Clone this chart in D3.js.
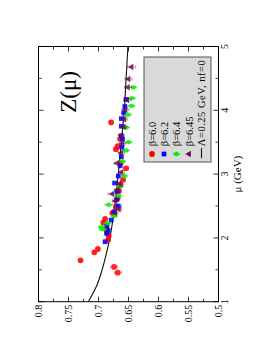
<!DOCTYPE html>
<html><head><meta charset="utf-8">
<script src="https://cdn.jsdelivr.net/npm/d3@7"></script>
<style>html,body{margin:0;padding:0;background:#fff;}svg{display:block;}</style>
</head><body>
<svg id="c" width="264" height="341"></svg>
<script>
// data: [mu (GeV), Z, error]
const beta60 = [[1.455,0.668,0.006],[1.545,0.674,0.006],[1.648,0.730,0.002],[1.774,0.707,0.002],[1.826,0.701,0.002],[1.97,0.684,0.002],[2.03,0.683,0.002],[2.08,0.686,0.002],[2.14,0.687,0.002],[2.24,0.692,0.002],[2.30,0.689,0.002],[2.39,0.677,0.003],[2.49,0.671,0.003],[2.62,0.668,0.003],[2.73,0.666,0.003],[2.83,0.663,0.003],[2.91,0.659,0.003],[3.09,0.654,0.004],[3.17,0.663,0.003],[3.39,0.671,0.003],[3.44,0.668,0.003],[3.55,0.664,0.003],[3.81,0.679,0.002]];
const beta62 = [[1.94,0.689,0.003],[2.07,0.686,0.003],[2.12,0.684,0.003],[2.19,0.686,0.003],[2.28,0.679,0.003],[2.41,0.674,0.004],[2.50,0.667,0.005],[2.60,0.670,0.004],[2.73,0.669,0.004],[2.86,0.673,0.004],[2.97,0.667,0.003],[3.13,0.664,0.003],[3.27,0.662,0.003],[3.42,0.661,0.003],[3.55,0.660,0.003],[3.60,0.662,0.003],[3.75,0.662,0.003],[3.87,0.662,0.003],[3.96,0.658,0.003],[4.06,0.656,0.003],[4.17,0.654,0.003]];
const beta64 = [[2.135,0.693,0.006],[2.17,0.695,0.004],[2.23,0.685,0.004],[2.34,0.674,0.004],[2.52,0.683,0.006],[2.66,0.667,0.004],[2.80,0.665,0.004],[2.97,0.657,0.004],[3.20,0.660,0.003],[3.37,0.654,0.003],[3.50,0.650,0.003],[3.73,0.654,0.003],[3.93,0.651,0.003],[4.07,0.645,0.003],[4.19,0.644,0.003],[4.36,0.642,0.003]];
const beta645 = [[2.39,0.672,0.005],[2.45,0.666,0.005],[2.58,0.672,0.005],[2.69,0.677,0.007],[2.76,0.668,0.005],[2.85,0.665,0.005],[3.03,0.662,0.005],[3.17,0.669,0.005],[3.33,0.662,0.005],[3.48,0.660,0.005],[3.61,0.662,0.005],[3.74,0.658,0.005],[3.86,0.657,0.005],[4.01,0.655,0.006],[4.16,0.652,0.006],[4.36,0.651,0.006],[4.49,0.650,0.006],[4.68,0.645,0.007]];
// curve Lambda=0.25 GeV, nf=0
const curveMu = [1.0,1.1,1.25,1.5,1.75,2.0,2.5,3.0,3.5,4.0,4.5,5.0];
const curveZ  = [0.717,0.711,0.703,0.694,0.687,0.681,0.673,0.667,0.662,0.657,0.654,0.651];
const muTicks = [1,2,3,4,5];
const zTicks = [0.5,0.55,0.6,0.65,0.7,0.75,0.8];
const legendLabels = ["\u03B2=6.0","\u03B2=6.2","\u03B2=6.4","\u03B2=6.45","\u039B=0.25 GeV, nf=0"];

const series = [
  {data:beta60, color:"#ff0000", shape:d3.symbolCircle, size:26},
  {data:beta62, color:"#0000ff", shape:d3.symbolSquare, size:22},
  {data:beta64, color:"#00ee00", shape:d3.symbolDiamond, size:20},
  {data:beta645, color:"#6a0d50", shape:d3.symbolTriangle, size:18}
];

const W = 255.2, H = 180;
const svg = d3.select("#c");
const g = svg.append("g").attr("transform","translate(38.5,301.7) rotate(-90)");
const x = d3.scaleLinear().domain([1,5]).range([0,W]);
const y = d3.scaleLinear().domain([0.5,0.8]).range([H,0]);
const font = "Liberation Serif, Times New Roman, serif";

// frame
g.append("rect").attr("x",0).attr("y",0).attr("width",W).attr("height",H)
 .attr("fill","none").attr("stroke","#000").attr("stroke-width",1);

// ticks inward all sides
const muMinor = d3.range(1.5,5,1);
const zMinor = d3.range(0.525,0.8,0.05);
function ticks(){
  const t = g.append("g").attr("stroke","#000").attr("stroke-width",0.8);
  muTicks.forEach(v=>{ t.append("line").attr("x1",x(v)).attr("x2",x(v)).attr("y1",H).attr("y2",H-5);
                       t.append("line").attr("x1",x(v)).attr("x2",x(v)).attr("y1",0).attr("y2",5);});
  muMinor.forEach(v=>{ t.append("line").attr("x1",x(v)).attr("x2",x(v)).attr("y1",H).attr("y2",H-3);
                       t.append("line").attr("x1",x(v)).attr("x2",x(v)).attr("y1",0).attr("y2",3);});
  zTicks.forEach(v=>{ t.append("line").attr("y1",y(v)).attr("y2",y(v)).attr("x1",0).attr("x2",5);
                      t.append("line").attr("y1",y(v)).attr("y2",y(v)).attr("x1",W).attr("x2",W-5);});
  zMinor.forEach(v=>{ t.append("line").attr("y1",y(v)).attr("y2",y(v)).attr("x1",0).attr("x2",3);
                      t.append("line").attr("y1",y(v)).attr("y2",y(v)).attr("x1",W).attr("x2",W-3);});
}
ticks();

// tick labels
g.selectAll(".mul").data(muTicks).enter().append("text")
 .attr("x",d=>x(d)).attr("y",H+9).attr("text-anchor","middle")
 .attr("font-family",font).attr("font-size",10).text(d=>d);
g.selectAll(".zl").data(zTicks).enter().append("text")
 .attr("x",-3).attr("y",d=>y(d)).attr("dy","0.33em").attr("text-anchor","end")
 .attr("font-family",font).attr("font-size",10).text(d=>d3.format("")(d));

// axis title
g.append("text").attr("x",x(3)).attr("y",H+22).attr("text-anchor","middle")
 .attr("font-family",font).attr("font-size",11).text("\u03BC (GeV)");

// Title Z(mu)
g.append("text").attr("x",189).attr("y",37.5).attr("font-family",font)
 .attr("font-size",23).text("Z(\u03BC)");

// curve
const line = d3.line().x(d=>x(d[0])).y(d=>y(d[1])).curve(d3.curveMonotoneX);
g.append("path").datum(curveMu.map((m,i)=>[m,curveZ[i]])).attr("d",line)
 .attr("fill","none").attr("stroke","#111").attr("stroke-width",1.1);

// data
series.forEach(s=>{
  const sg = g.append("g");
  s.data.forEach(d=>{
    const cx=x(d[0]), y1=y(d[1]-d[2]), y2=y(d[1]+d[2]);
    sg.append("line").attr("x1",cx).attr("x2",cx).attr("y1",y1).attr("y2",y2)
      .attr("stroke",s.color).attr("stroke-opacity",0.45).attr("stroke-width",0.8);
    [y1,y2].forEach(yy=>sg.append("line").attr("x1",cx-1.8).attr("x2",cx+1.8).attr("y1",yy).attr("y2",yy)
      .attr("stroke",s.color).attr("stroke-opacity",0.45).attr("stroke-width",0.8));
  });
  sg.selectAll("path").data(s.data).enter().append("path")
    .attr("d",d3.symbol().type(s.shape).size(s.size))
    .attr("transform",d=>`translate(${x(d[0])},${y(d[1])})`)
    .attr("fill",s.color).attr("fill-opacity",0.85);
});

// legend
const lg = g.append("g");
lg.append("rect").attr("x",139.7).attr("y",105.5).attr("width",105).attr("height",67)
  .attr("fill","#d9d9d9").attr("stroke","#555").attr("stroke-width",1);
const rowY = [113.5,125.5,138,150.5,163];
series.forEach((s,i)=>{
  lg.append("path").attr("d",d3.symbol().type(s.shape).size(s.size))
    .attr("transform",`translate(147.7,${rowY[i]})`).attr("fill",s.color);
});
lg.append("line").attr("x1",143.5).attr("x2",153.5).attr("y1",rowY[4]).attr("y2",rowY[4])
  .attr("stroke","#111").attr("stroke-width",1.1);
legendLabels.forEach((t,i)=>{
  const el = lg.append("text").attr("x",155.5).attr("y",rowY[i]).attr("dy","0.35em")
    .attr("font-family",font).attr("font-size",10.5).text(t);
  if (i === 4) el.attr("textLength",86).attr("lengthAdjust","spacing");
});
</script>
</body></html>
